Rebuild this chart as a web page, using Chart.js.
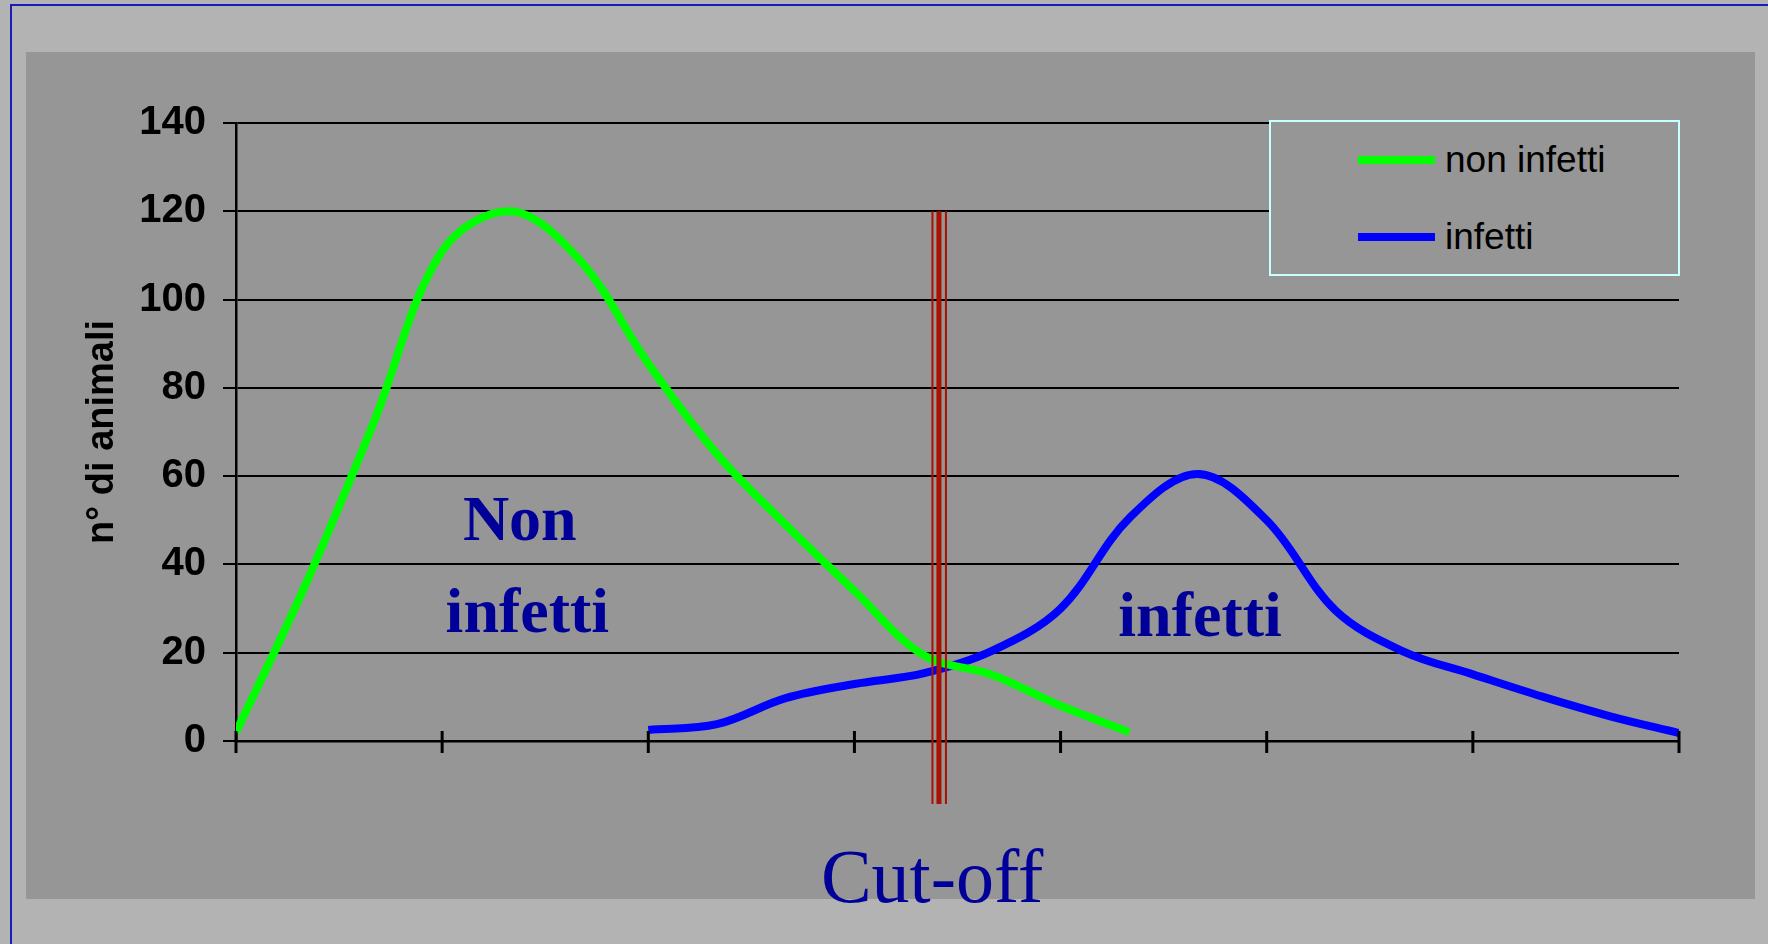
<!DOCTYPE html>
<html>
<head>
<meta charset="utf-8">
<script src="https://cdn.jsdelivr.net/npm/chart.js@4.4.1/dist/chart.umd.min.js"></script>
<style>
  html, body { margin: 0; padding: 0; width: 1768px; height: 944px; overflow: hidden; background: #b3b3b3; }
  #frame { position: absolute; left: 10px; top: 4px; right: -10px; bottom: -10px; border-left: 2px solid #1c1cb4; border-top: 2px solid #1c1cb4; }
  #plotBg { position: absolute; left: 26px; top: 52px; width: 1729px; height: 847px; background: #969696; }
  #chart { position: absolute; left: 0; top: 0; }
  #legend { position: absolute; left: 1269px; top: 120px; width: 407px; height: 152px; border: 2px solid #c8ffff; background: #969696; }
  .item { position: absolute; left: 87px; height: 40px; display: flex; align-items: center; font: 37px "Liberation Sans", Arial, sans-serif; color: #000; }
  .swatch { width: 77px; height: 8px; margin-right: 10px; }
</style>
</head>
<body>
<div id="frame"></div>
<div id="plotBg"></div>
<canvas id="chart" width="1768" height="944"></canvas>
<div id="legend"></div>

<script>
// x positions are category indices 0..21 (tick every 3 categories)
const xMin = 0;
const xMax = 21;
const xStep = 3;

// non infetti: starts at category 0
const nonInfettiStart = 0;
const nonInfetti = [2, 35, 72, 111, 120, 109, 85.5, 65, 49, 34, 19.5, 15, 8, 2];

// infetti: starts at category 6
const infettiStart = 6;
const infetti = [2.5, 3.8, 9.7, 12.9, 15.3, 20.4, 30, 50.5, 60.5, 50, 29.6, 20.2, 15.1, 10.1, 5.6, 1.8];

const yTicksMax = 140;
const yStep = 20;

// cut-off marker (category index) and vertical extent (in y units)
const cutoffX = 10.23;
const cutoffTop = 120;
const cutoffBottom = -14.3;

// text labels placed in data units
const notes = [
    { text: 'Non', x: 4.13, y: 45.5, font: 'bold 64px "Liberation Serif", "Times New Roman", serif' },
    { text: 'infetti', x: 4.24, y: 24.7, font: 'bold 64px "Liberation Serif", "Times New Roman", serif' },
    { text: 'infetti', x: 14.03, y: 23.8, font: 'bold 64px "Liberation Serif", "Times New Roman", serif' },
    { text: 'Cut-off', x: 10.13, y: -36.5, font: '76px "Liberation Serif", "Times New Roman", serif' }
];

function toPoints(values, start) {
    return values.map((v, i) => ({ x: start + i, y: v }));
}

const cutoffPlugin = {
    id: 'cutoff',
    afterDatasetsDraw(chart) {
        const { ctx, scales: { x, y } } = chart;
        const cx = x.getPixelForValue(cutoffX);
        const top = y.getPixelForValue(cutoffTop);
        const bottom = y.getPixelForValue(cutoffBottom);
        ctx.save();
        ctx.strokeStyle = '#aa1100';
        [[-6.5, 2], [0, 5], [7, 2]].forEach(([dx, w]) => {
            ctx.lineWidth = w;
            ctx.beginPath();
            ctx.moveTo(cx + dx, top);
            ctx.lineTo(cx + dx, bottom);
            ctx.stroke();
        });
        ctx.restore();
    }
};

const crossTicksPlugin = {
    id: 'crossTicks',
    afterDraw(chart) {
        const { ctx, scales: { x } } = chart;
        const yAxis = chart.chartArea.bottom;
        ctx.save();
        ctx.strokeStyle = '#000';
        ctx.lineWidth = 3;
        x.ticks.forEach(t => {
            const px = x.getPixelForValue(t.value);
            ctx.beginPath();
            ctx.moveTo(px, yAxis - 10);
            ctx.lineTo(px, yAxis + 12);
            ctx.stroke();
        });
        ctx.restore();
    }
};

const notesPlugin = {
    id: 'notes',
    afterDraw(chart) {
        const { ctx, scales: { x, y } } = chart;
        ctx.save();
        ctx.fillStyle = '#000099';
        ctx.textAlign = 'center';
        ctx.textBaseline = 'alphabetic';
        notes.forEach(n => {
            ctx.font = n.font;
            ctx.fillText(n.text, x.getPixelForValue(n.x), y.getPixelForValue(n.y));
        });
        ctx.restore();
    }
};

const ctx = document.getElementById('chart').getContext('2d');
const chart = new Chart(ctx, {
    type: 'line',
    data: {
        datasets: [
            {
                label: 'non infetti',
                data: toPoints(nonInfetti, nonInfettiStart),
                borderColor: '#00ff00',
                backgroundColor: '#00ff00',
                borderWidth: 8,
                pointRadius: 0,
                tension: 0.35,
                fill: false
            },
            {
                label: 'infetti',
                data: toPoints(infetti, infettiStart),
                borderColor: '#0000ff',
                backgroundColor: '#0000ff',
                borderWidth: 8,
                pointRadius: 0,
                tension: 0.35,
                fill: false
            }
        ]
    },
    options: {
        responsive: false,
        animation: false,
        devicePixelRatio: 1,
        layout: { padding: { left: 80, top: 123, right: 89, bottom: 183 } },
        plugins: {
            legend: { display: false },
            tooltip: { enabled: false }
        },
        scales: {
            x: {
                type: 'linear',
                min: xMin,
                max: xMax,
                ticks: { stepSize: xStep, display: false },
                grid: { drawOnChartArea: false, drawTicks: false },
                border: { display: true, color: '#000', width: 2.5 },
                afterFit: s => { s.height = 20; }
            },
            y: {
                min: 0,
                max: yTicksMax,
                ticks: {
                    stepSize: yStep,
                    padding: 17,
                    color: '#000',
                    font: { family: '"Liberation Sans", Arial, sans-serif', weight: 'bold', size: 40 }
                },
                grid: { color: '#000', lineWidth: 2, tickLength: 13 },
                border: { color: '#000', width: 2.5 },
                title: {
                    display: true,
                    text: 'n° di animali',
                    color: '#000',
                    padding: 0,
                    font: { family: '"Liberation Sans", Arial, sans-serif', weight: 'bold', size: 38 }
                },
                afterFit: s => { s.width = 156; }
            }
        }
    },
    plugins: [cutoffPlugin, crossTicksPlugin, notesPlugin]
});

// legend box built from the datasets
const legend = document.getElementById('legend');
chart.data.datasets.forEach((ds, i) => {
    const row = document.createElement('div');
    row.className = 'item';
    row.style.top = (i === 0 ? 18 : 95) + 'px';
    row.innerHTML = '<span class="swatch" style="background:' + ds.borderColor + '"></span>' + ds.label;
    legend.appendChild(row);
});
</script>
</body>
</html>
